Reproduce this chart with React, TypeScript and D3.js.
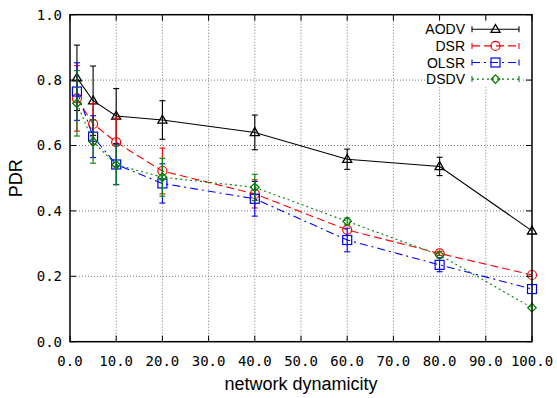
import React, { useEffect, useRef } from "react";
import * as d3 from "d3";

// network dynamicity values
const xs = [1.5, 5, 10, 20, 40, 60, 80, 100];

const aodv = [0.807, 0.737, 0.69, 0.678, 0.64, 0.558, 0.536, 0.339];
const aodvErr = [0.1, 0.106, 0.084, 0.059, 0.053, 0.031, 0.028, 0.0];
const dsr = [0.744, 0.666, 0.61, 0.522, 0.452, 0.342, 0.27, 0.204];
const dsrErr = [0.1, 0.062, 0.074, 0.07, 0.043, 0.0, 0.006, 0.0];
const olsr = [0.765, 0.627, 0.542, 0.484, 0.437, 0.311, 0.235, 0.161];
const olsrErr = [0.088, 0.064, 0.062, 0.06, 0.053, 0.036, 0.021, 0.0];
const dsdv = [0.729, 0.612, 0.541, 0.503, 0.472, 0.368, 0.265, 0.104];
const dsdvErr = [0.1, 0.066, 0.06, 0.058, 0.04, 0.01, 0.0, 0.0];

const xTicks = [0, 10, 20, 30, 40, 50, 60, 70, 80, 90, 100];
const yTicks = [0, 0.2, 0.4, 0.6, 0.8, 1.0];

const series = [
  { name: "AODV", values: aodv, err: aodvErr, color: "#000000", dash: "none", marker: "triangle" },
  { name: "DSR", values: dsr, err: dsrErr, color: "#ff0000", dash: "8,4", marker: "circle" },
  { name: "OLSR", values: olsr, err: olsrErr, color: "#0000ff", dash: "8,4,2,4", marker: "square" },
  { name: "DSDV", values: dsdv, err: dsdvErr, color: "#008000", dash: "2,3", marker: "diamond" },
];

const W = 557, H = 398;
const margin = { top: 14.7, right: 25, bottom: 56.3, left: 70 };

function drawMarker(g: any, kind: string, x: number, y: number, color: string) {
  if (kind === "circle") {
    g.append("circle").attr("cx", x).attr("cy", y).attr("r", 4.5)
      .attr("fill", "none").attr("stroke", color).attr("stroke-width", 1.2);
  } else if (kind === "square") {
    g.append("rect").attr("x", x - 4.5).attr("y", y - 4.5).attr("width", 9).attr("height", 9)
      .attr("fill", "none").attr("stroke", color).attr("stroke-width", 1.2);
  } else if (kind === "diamond") {
    // square turned 45 degrees
    g.append("rect").attr("x", -3).attr("y", -3).attr("width", 6).attr("height", 6)
      .attr("transform", "translate(" + x + "," + y + ") rotate(45)")
      .attr("fill", "none").attr("stroke", color).attr("stroke-width", 1.3);
  } else {
    g.append("path").attr("d", d3.symbol().type(d3.symbolTriangle).size(36)())
      .attr("transform", "translate(" + x + "," + (y + 0.5) + ")")
      .attr("fill", "none").attr("stroke", color).attr("stroke-width", 1.3);
  }
}

export default function App() {
  const ref = useRef<SVGSVGElement>(null);

  useEffect(() => {
    document.body.style.margin = "0";
    const svg = d3.select(ref.current);
    svg.selectAll("*").remove();

    const width = W - margin.left - margin.right;
    const height = H - margin.top - margin.bottom;

    const x = d3.scaleLinear().domain([0, 100]).range([0, width]);
    const y = d3.scaleLinear().domain([0, 1]).range([height, 0]);

    const g = svg.append("g")
      .attr("transform", "translate(" + margin.left + "," + margin.top + ")");

    // grid
    g.selectAll(".gx").data(xTicks.slice(1, -1)).enter().append("line")
      .attr("x1", (d) => x(d)).attr("x2", (d) => x(d)).attr("y1", 0).attr("y2", height)
      .attr("stroke", "#777").attr("stroke-dasharray", "1,2").attr("stroke-width", 1);
    g.selectAll(".gy").data(yTicks.slice(1, -1)).enter().append("line")
      .attr("y1", (d) => y(d)).attr("y2", (d) => y(d)).attr("x1", 0).attr("x2", width)
      .attr("stroke", "#777").attr("stroke-dasharray", "1,2").attr("stroke-width", 1);

    // legend background
    g.append("rect").attr("x", 358).attr("y", 6).attr("width", 94).attr("height", 66).attr("fill", "#fff");

    // series
    series.forEach((s) => {
      const pts = xs.map((xv, i) => ({ x: xv, v: s.values[i], e: s.err[i] }));
      const line = d3.line<any>().x((d) => x(d.x)).y((d) => y(d.v));
      g.append("path").datum(pts).attr("d", line).attr("fill", "none")
        .attr("stroke", s.color).attr("stroke-width", 1.1).attr("stroke-dasharray", s.dash);
      pts.forEach((p) => {
        if (p.e > 0) {
          const cx = x(p.x), t = y(p.v + p.e), b = y(p.v - p.e);
          g.append("line").attr("x1", cx).attr("x2", cx).attr("y1", t).attr("y2", b)
            .attr("stroke", s.color).attr("stroke-width", 1.1);
          [t, b].forEach((yy) => {
            g.append("line").attr("x1", cx - 3).attr("x2", cx + 3).attr("y1", yy).attr("y2", yy)
              .attr("stroke", s.color).attr("stroke-width", 1.1);
          });
        }
        drawMarker(g, s.marker, x(p.x), y(p.v), s.color);
      });
    });

    // frame
    g.append("rect").attr("x", 0).attr("y", 0).attr("width", width).attr("height", height)
      .attr("fill", "none").attr("stroke", "#000").attr("stroke-width", 1.5);

    // ticks (inward, mirrored)
    xTicks.forEach((t) => {
      g.append("line").attr("x1", x(t)).attr("x2", x(t)).attr("y1", height).attr("y2", height - 6).attr("stroke", "#000");
      g.append("line").attr("x1", x(t)).attr("x2", x(t)).attr("y1", 0).attr("y2", 6).attr("stroke", "#000");
      g.append("text").attr("x", x(t)).attr("y", height + 24).attr("text-anchor", "middle")
        .attr("font-family", "DejaVu Sans Mono").attr("font-size", 14).text(t.toFixed(1));
    });
    yTicks.forEach((t) => {
      g.append("line").attr("x1", 0).attr("x2", 6).attr("y1", y(t)).attr("y2", y(t)).attr("stroke", "#000");
      g.append("line").attr("x1", width).attr("x2", width - 6).attr("y1", y(t)).attr("y2", y(t)).attr("stroke", "#000");
      g.append("text").attr("x", -8).attr("y", y(t)).attr("dy", "0.35em").attr("text-anchor", "end")
        .attr("font-family", "DejaVu Sans Mono").attr("font-size", 14).text(t.toFixed(1));
    });

    // axis titles
    g.append("text").attr("x", width / 2).attr("y", height + 48).attr("text-anchor", "middle")
      .attr("font-family", "Liberation Sans, Arial, sans-serif").attr("font-size", 18).text("network dynamicity");
    g.append("text").attr("transform", "translate(-48," + height / 2 + ") rotate(-90)")
      .attr("text-anchor", "middle").attr("font-family", "Liberation Sans, Arial, sans-serif")
      .attr("font-size", 18).text("PDR");

    // legend
    series.forEach((s, i) => {
      const ly = 14.6 + i * 16.6;
      g.append("text").attr("x", 395).attr("y", ly).attr("dy", "0.36em").attr("text-anchor", "end")
        .attr("font-family", "Liberation Sans, Arial, sans-serif").attr("font-size", 14).text(s.name);
      g.append("line").attr("x1", 402).attr("x2", 449).attr("y1", ly).attr("y2", ly)
        .attr("stroke", s.color).attr("stroke-width", 1.1).attr("stroke-dasharray", s.dash);
      [402, 449].forEach((xx) => {
        g.append("line").attr("x1", xx).attr("x2", xx).attr("y1", ly - 3).attr("y2", ly + 3)
          .attr("stroke", s.color).attr("stroke-width", 1.1);
      });
      drawMarker(g, s.marker, 425.5, ly, s.color);
    });
  }, []);

  return (
    <div>
      <svg ref={ref} width={W} height={H} style={{ display: "block", background: "#fff" }}></svg>
    </div>
  );
}
